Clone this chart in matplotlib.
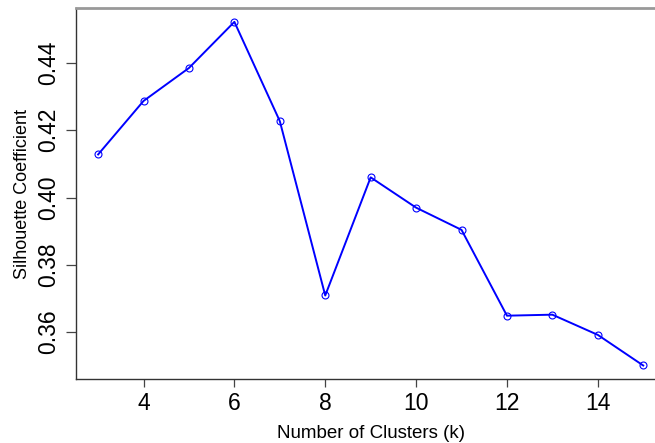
import matplotlib.pyplot as plt
import numpy as np

# silhouette score for each k
k_values = [3, 4, 5, 6, 7, 8, 9, 10, 11, 12, 13, 14, 15]
silhouette = [0.4128, 0.4287, 0.4385, 0.4522, 0.4227, 0.3709, 0.4060,
              0.3970, 0.3904, 0.3649, 0.3652, 0.3592, 0.3501]
x_ticks = [4, 6, 8, 10, 12, 14]
y_ticks = [0.36, 0.38, 0.40, 0.42, 0.44]

plt.rcParams['font.family'] = ['Liberation Sans', 'DejaVu Sans']

fig = plt.figure(figsize=(6.55, 4.43), dpi=100)
# plot region runs past the right edge of the canvas
ax = fig.add_axes([0.1165, 0.1438, 0.8988, 0.838])

ax.plot(k_values, silhouette, color='#0000ff', linewidth=1.4,
        marker='o', markersize=5, markerfacecolor='none',
        markeredgecolor='#0000ff', markeredgewidth=0.8)

ax.set_xlim(2.52, 15.48)
ax.set_ylim(0.3460, 0.4563)
ax.set_xticks(x_ticks)
ax.set_xticklabels([str(t) for t in x_ticks])
ax.set_yticks(y_ticks)
ax.set_yticklabels(['%.2f' % t for t in y_ticks], rotation=90, va='center')

ax.tick_params(axis='x', length=6, width=0.9, color='#444444', labelsize=16.5, pad=3)
ax.tick_params(axis='y', length=7, width=0.9, color='#444444', labelsize=16.5, pad=5)

for side in ['left', 'bottom']:
    ax.spines[side].set_color('#333333')
    ax.spines[side].set_linewidth(1.0)
ax.spines['top'].set_color('#999999')
ax.spines['top'].set_linewidth(2.0)
ax.spines['right'].set_visible(False)

ax.set_xlabel('Number of Clusters (k)', fontsize=13.5, labelpad=7)
ax.set_ylabel('Silhouette Coefficient', fontsize=13, labelpad=4)

fig.savefig('out.png', dpi=100)
